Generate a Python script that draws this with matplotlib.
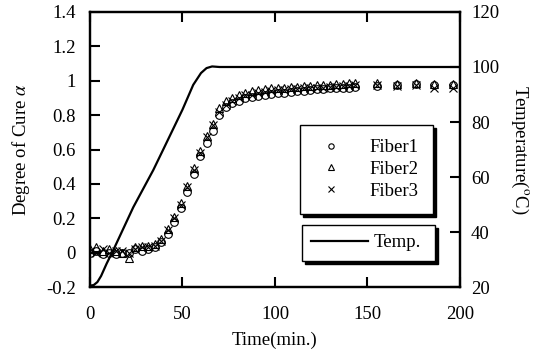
import matplotlib
matplotlib.use('Agg')
import matplotlib.pyplot as plt

plt.rcParams['font.family'] = ['Liberation Serif', 'DejaVu Serif']
plt.rcParams['mathtext.fontset'] = 'stix'
plt.rcParams['font.size'] = 13.5

# cure data (min, degree of cure)
time = [0, 3.5, 7, 10.5, 14, 17.5, 21, 24.5, 28, 31.5, 35, 38.5, 42, 45.5,
        49, 52.5, 56, 59.5, 63, 66.5, 70, 73.5, 77, 80.5, 84, 87.5, 91, 94.5,
        98, 101.5, 105, 108.5, 112, 115.5, 119, 122.5, 126, 129.5, 133, 136.5,
        140, 143.5, 155, 166, 176, 186, 196]
fiber1 = [0.00, 0.01, -0.01, 0.00, -0.01, 0.00, 0.00, 0.02, 0.01, 0.02,
          0.03, 0.06, 0.11, 0.18, 0.26, 0.35, 0.46, 0.56, 0.64, 0.71,
          0.80, 0.845, 0.87, 0.885, 0.90, 0.905, 0.91, 0.92, 0.925, 0.93,
          0.93, 0.935, 0.94, 0.94, 0.945, 0.95, 0.95, 0.955, 0.955, 0.96,
          0.96, 0.965, 0.97, 0.975, 0.98, 0.975, 0.975]
fiber2 = [0.02, 0.03, 0.01, 0.02, 0.01, 0.00, -0.03, 0.03, 0.04, 0.04,
          0.05, 0.08, 0.14, 0.21, 0.29, 0.39, 0.49, 0.59, 0.68, 0.75,
          0.84, 0.88, 0.90, 0.92, 0.93, 0.94, 0.945, 0.95, 0.955, 0.96,
          0.96, 0.965, 0.965, 0.97, 0.97, 0.975, 0.975, 0.975, 0.98, 0.98,
          0.985, 0.985, 0.985, 0.98, 0.985, 0.98, 0.98]
fiber3 = [0.01, 0.00, 0.02, 0.00, 0.01, 0.01, 0.00, 0.02, 0.03, 0.03,
          0.04, 0.07, 0.13, 0.20, 0.28, 0.38, 0.48, 0.58, 0.67, 0.74,
          0.82, 0.86, 0.885, 0.90, 0.915, 0.92, 0.93, 0.935, 0.94, 0.945,
          0.945, 0.95, 0.95, 0.955, 0.96, 0.96, 0.96, 0.965, 0.965, 0.97,
          0.97, 0.975, 0.975, 0.97, 0.975, 0.955, 0.955]

# temperature profile
temp_time = [0, 2, 4, 6, 9, 12.6, 23.4, 34.2, 39.6, 50, 55.8, 60, 63, 66, 70, 200]
temp = [20.5, 20.7, 21.8, 24, 28.5, 33.4, 49, 62.5, 70, 84.5, 93.5, 97.8, 99.6, 100.2, 100, 100]

fig = plt.figure(figsize=(5.34, 3.56), dpi=100)
ax = fig.add_axes([0.1685, 0.1938, 0.6929, 0.7725])
ax2 = ax.twinx()

mk = dict(linestyle='none', markersize=5.5, markerfacecolor='none',
          markeredgecolor='black', markeredgewidth=0.8)
h1, = ax.plot(time, fiber1, marker='o', label='Fiber1', **mk)
h2, = ax.plot(time, fiber2, marker='^', label='Fiber2', **mk)
h3, = ax.plot(time, fiber3, marker='x', label='Fiber3', **mk)
h4, = ax2.plot(temp_time, temp, color='black', lw=1.6, label='Temp.')

ax.set_xlim(0, 200)
ax.set_ylim(-0.2, 1.4)
ax2.set_ylim(20, 120)
ax.set_xticks([0, 50, 100, 150, 200])
yt = [-0.2, 0, 0.2, 0.4, 0.6, 0.8, 1, 1.2, 1.4]
ax.set_yticks(yt)
ax.set_yticklabels(['-0.2', '0', '0.2', '0.4', '0.6', '0.8', '1', '1.2', '1.4'])
ax2.set_yticks([20, 40, 60, 80, 100, 120])

ax.tick_params(axis='x', direction='in', top=True, length=7, width=1.5, pad=14)
ax.tick_params(axis='y', direction='in', right=False, length=7, width=1.5, pad=10)
ax2.tick_params(axis='y', direction='in', length=7, width=1.5, pad=8)
for a in (ax, ax2):
    for s in a.spines.values():
        s.set_linewidth(1.6)

ax.set_xlabel('Time(min.)', labelpad=6)
ax.set_ylabel(r'Degree of Cure $\alpha$', labelpad=10)
ax2.set_ylabel(r'Temperature($^{\mathrm{o}}$C)', rotation=-90, labelpad=22)

shadow = {'color': 'black', 'alpha': 1}
leg1 = ax2.legend(handles=[h1, h2, h3], loc='upper left',
                  bbox_to_anchor=(0.568, 0.289, 0.359, 0.3), mode='expand',
                  borderaxespad=0, fancybox=False, shadow=shadow,
                  edgecolor='black', framealpha=1, handlelength=1.8,
                  handletextpad=1.15, labelspacing=0.25, borderpad=0.75,
                  markerscale=0.7)
leg1.get_frame().set_linewidth(1.0)
ax2.add_artist(leg1)
leg2 = ax2.legend(handles=[h4], loc='upper left',
                  bbox_to_anchor=(0.573, 0.1255, 0.359, 0.1), mode='expand',
                  borderaxespad=0, fancybox=False, shadow=shadow,
                  edgecolor='black', framealpha=1, handlelength=3.0,
                  handletextpad=0.3, borderpad=0.5)
leg2.get_frame().set_linewidth(1.0)

fig.savefig('out.png', dpi=100)
